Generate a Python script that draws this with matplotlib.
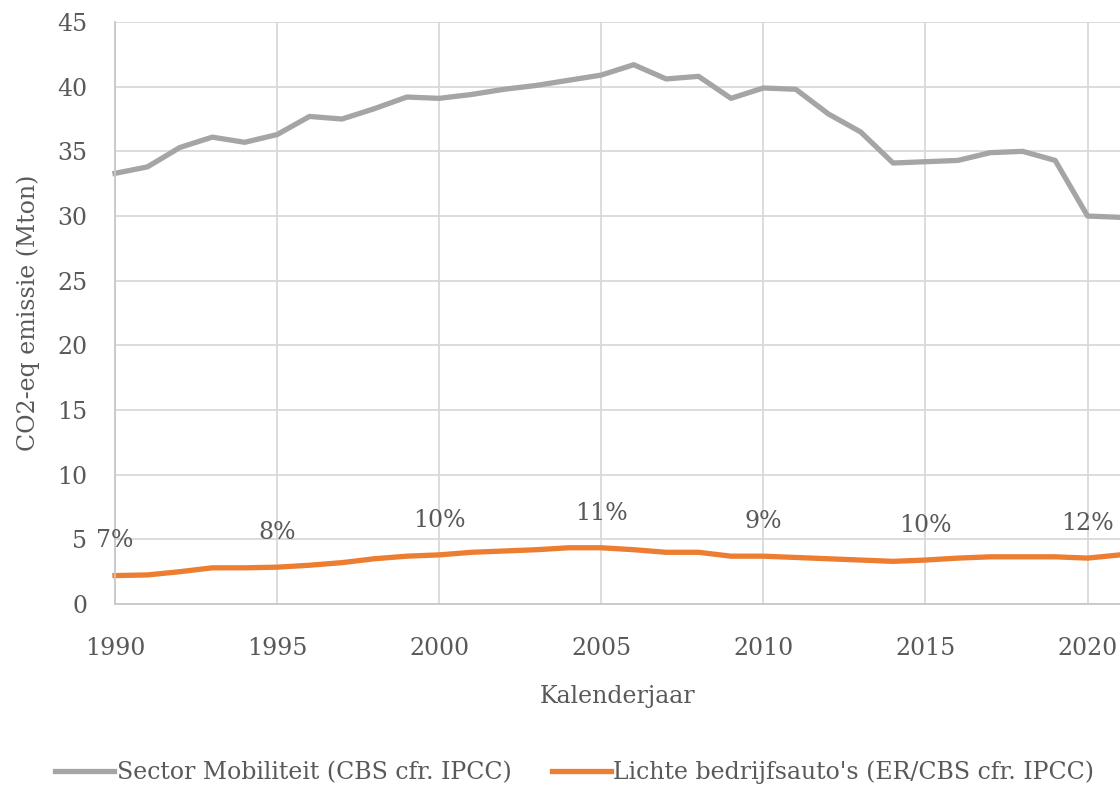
import matplotlib
matplotlib.use("Agg")
import matplotlib.pyplot as plt

plt.rcParams["font.family"] = ["DejaVu Serif"]
plt.rcParams["xtick.major.size"] = 0
plt.rcParams["ytick.major.size"] = 0
plt.rcParams["xtick.major.pad"] = 24
plt.rcParams["ytick.major.pad"] = 20

years = list(range(1990, 2022))
mobiliteit = [33.3, 33.8, 35.3, 36.1, 35.7, 36.3, 37.7, 37.5, 38.3, 39.2,
              39.1, 39.4, 39.8, 40.1, 40.5, 40.9, 41.7, 40.6, 40.8, 39.1,
              39.9, 39.8, 37.9, 36.5, 34.1, 34.2, 34.3, 34.9, 35.0, 34.3,
              30.0, 29.9]
bedrijfsauto = [2.2, 2.25, 2.5, 2.8, 2.8, 2.85, 3.0, 3.2, 3.5, 3.7,
                3.8, 4.0, 4.1, 4.2, 4.35, 4.35, 4.2, 4.0, 4.0, 3.7,
                3.7, 3.6, 3.5, 3.4, 3.3, 3.4, 3.55, 3.65, 3.65, 3.65,
                3.55, 3.8]
label_years = [1990, 1995, 2000, 2005, 2010, 2015, 2020]

TEXT = "#595959"
GRID = "#d9d9d9"
FS = 17

fig = plt.figure(figsize=(11.2, 7.87), dpi=100)
ax = fig.add_axes([0.1027, 0.2325, 0.8973, 0.7395])

ax.plot(years, mobiliteit, color="#a5a5a5", lw=3.8, solid_joinstyle="round",
        label="Sector Mobiliteit (CBS cfr. IPCC)", clip_on=False)
ax.plot(years, bedrijfsauto, color="#ed7d31", lw=3.8, solid_joinstyle="round",
        label="Lichte bedrijfsauto's (ER/CBS cfr. IPCC)", clip_on=False)

# share of light commercial vehicles in the sector total
for yr in label_years:
    i = years.index(yr)
    pct = round(100 * bedrijfsauto[i] / mobiliteit[i])
    ax.annotate(f"{pct}%", (yr, bedrijfsauto[i]), xytext=(0, 25),
                textcoords="offset points", ha="center", va="center",
                fontsize=FS, color=TEXT)

ax.set_xlim(1990, 2021)
ax.set_ylim(0, 45)
ax.set_xticks(range(1990, 2021, 5))
ax.set_yticks(range(0, 46, 5))
ax.grid(True, color=GRID, lw=1.3)
ax.set_axisbelow(True)
for side in ["top", "right"]:
    ax.spines[side].set_visible(False)
for side in ["left", "bottom"]:
    ax.spines[side].set_color("#c8c8c8")
    ax.spines[side].set_linewidth(1.3)
ax.tick_params(labelsize=FS, labelcolor=TEXT)

ax.set_xlabel("Kalenderjaar", fontsize=FS, color=TEXT, labelpad=18)
ax.set_ylabel("CO2-eq emissie (Mton)", fontsize=FS, color=TEXT, labelpad=12)

fig.legend(loc="center", bbox_to_anchor=(0.513, 0.019), ncol=2,
           frameon=False, fontsize=FS, labelcolor=TEXT, handlelength=2.5,
           handletextpad=0.1, columnspacing=1.7)

fig.savefig("out.png", dpi=100)
